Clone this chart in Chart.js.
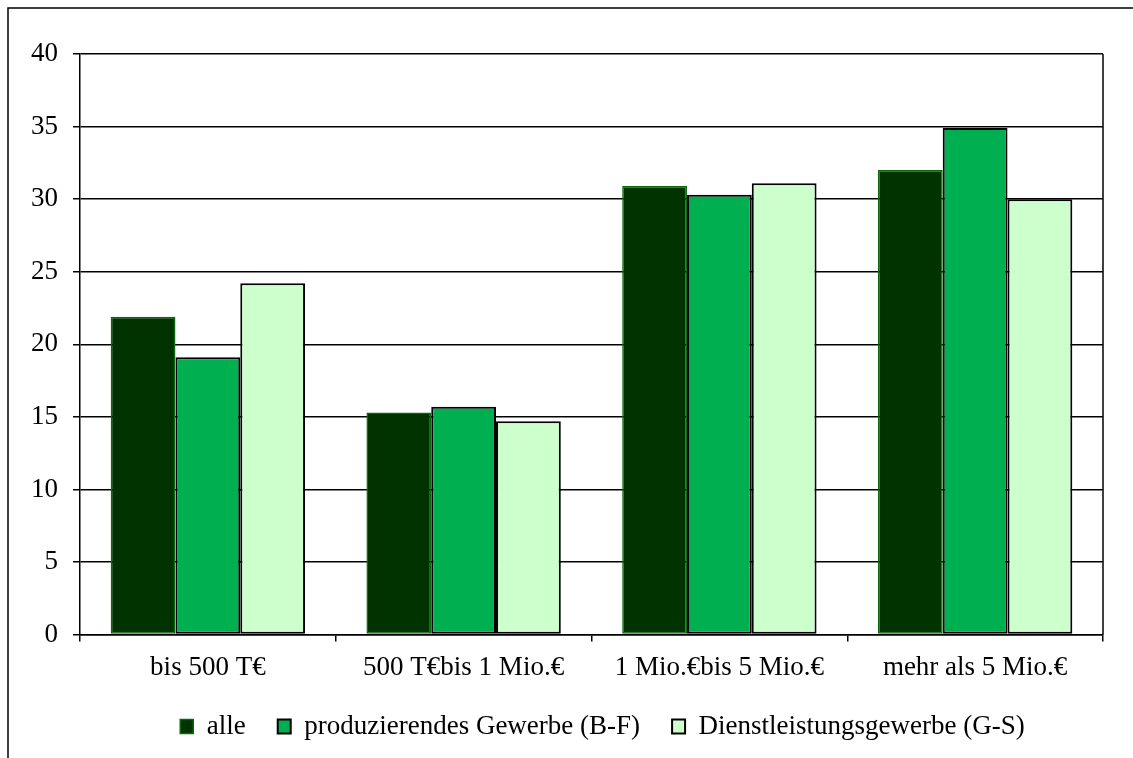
<!DOCTYPE html>
<html>
<head>
<meta charset="utf-8">
<script src="https://cdn.jsdelivr.net/npm/chart.js@4"></script>
<style>
  html, body { margin: 0; padding: 0; background: #fff; }
  #wrap { width: 1133px; height: 758px; position: relative; }
</style>
</head>
<body>
<div id="wrap"><canvas id="chart"></canvas></div>
<script>
// categories and series
const categories = ['bis 500 T€', '500 T€bis 1 Mio.€', '1 Mio.€bis 5 Mio.€', 'mehr als 5 Mio.€'];
const alle = [21.9, 15.3, 30.9, 32.0];
const produzierend = [19.1, 15.7, 30.3, 34.9];
const dienstleistung = [24.2, 14.7, 31.1, 30.0];
const yTicks = [0, 5, 10, 15, 20, 25, 30, 35, 40];

const serif = "'Liberation Serif', 'Times New Roman', serif";

// nudge the legend a bit up/right so it sits where the original one is
const legendNudge = {
    id: 'legendNudge',
    beforeDraw(chart) {
        const lg = chart.legend;
        if (!lg || lg._nudged) return;
        lg.top -= 13; lg.bottom -= 13;
        lg.left += 11; lg.right += 11;
        lg._nudged = true;
    }
};

// outer frame + right border of the plot area
const framePlugin = {
    id: 'frame',
    afterDraw(chart) {
        const ctx = chart.ctx;
        const a = chart.chartArea;
        ctx.save();
        ctx.strokeStyle = '#000';
        ctx.lineWidth = 1.5;
        ctx.beginPath();
        ctx.moveTo(a.right, a.top);
        ctx.lineTo(a.right, a.bottom);
        ctx.stroke();
        // outer chart box (runs off the right / bottom of the picture)
        ctx.beginPath();
        ctx.moveTo(8, 800);
        ctx.lineTo(8, 8);
        ctx.lineTo(1200, 8);
        ctx.stroke();
        ctx.restore();
    }
};

new Chart(document.getElementById('chart').getContext('2d'), {
    type: 'bar',
    data: {
        labels: categories,
        datasets: [
            { label: 'alle', data: alle, backgroundColor: '#003300', borderColor: '#0a6a0a', borderWidth: 1.5, borderSkipped: false },
            { label: 'produzierendes Gewerbe (B-F)', data: produzierend, backgroundColor: '#00B050', borderColor: '#000', borderWidth: 2, borderSkipped: false },
            { label: 'Dienstleistungsgewerbe (G-S)', data: dienstleistung, backgroundColor: '#CCFFCC', borderColor: '#000', borderWidth: 2, borderSkipped: false }
        ]
    },
    options: {
        responsive: true,
        maintainAspectRatio: false,
        animation: false,
        datasets: { bar: { categoryPercentage: 0.76, barPercentage: 1 } },
        layout: { padding: { left: 0, right: 30, top: 54, bottom: -5 } },
        plugins: {
            legend: {
                position: 'bottom',
                fullSize: false,
                labels: {
                    color: '#000',
                    font: { family: serif, size: 27 },
                    boxWidth: 13,
                    boxHeight: 14,
                    padding: 32
                }
            },
            tooltip: { enabled: false }
        },
        scales: {
            x: {
                grid: { offset: true, drawOnChartArea: false, color: '#000', lineWidth: 1.5, tickLength: 7 },
                border: { color: '#000', width: 1.5 },
                ticks: { color: '#000', font: { family: serif, size: 27 }, padding: 10, maxRotation: 0, autoSkip: false }
            },
            y: {
                min: 0,
                max: 40,
                afterBuildTicks(axis) { axis.ticks = yTicks.map(v => ({ value: v })); },
                afterFit(axis) { axis.width = 80; },
                grid: { color: '#000', lineWidth: 1.5, tickLength: 7 },
                border: { color: '#000', width: 1.5 },
                ticks: { color: '#000', font: { family: serif, size: 27 }, padding: 15 }
            }
        }
    },
    plugins: [legendNudge, framePlugin]
});
</script>
</body>
</html>
